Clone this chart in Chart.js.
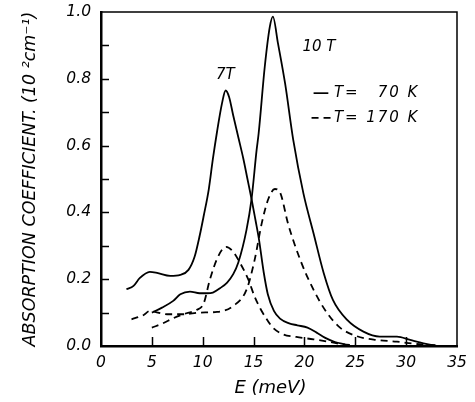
<!DOCTYPE html>
<html>
<head>
<meta charset="utf-8">
<script src="https://cdn.jsdelivr.net/npm/chart.js@4/dist/chart.umd.min.js"></script>
<style>
  html, body { margin: 0; padding: 0; background: #fff; }
  canvas { display: block; }
</style>
</head>
<body>
<canvas id="c" width="475" height="402"></canvas>
<script>
// ---- Data (energy in meV, absorption coefficient in 10^2 cm^-1) ----
const energy7T70K = [2.5, 3.2, 3.8, 4.8, 5.6, 6.8, 7.8, 8.6, 9.2, 9.7, 10.1, 10.6, 11.0, 11.4, 11.9, 12.25, 12.6, 13.0, 13.5, 14.0, 14.4, 14.8, 15.2, 15.5, 16.0, 16.4, 17.0, 17.6, 18.5, 19.3, 20.3, 21.2, 22.0, 23.0, 24.0];
const alpha7T70K  = [0.17, 0.18, 0.203, 0.222, 0.218, 0.21, 0.213, 0.228, 0.267, 0.33, 0.39, 0.47, 0.56, 0.64, 0.727, 0.765, 0.745, 0.69, 0.625, 0.56, 0.50, 0.44, 0.375, 0.325, 0.22, 0.155, 0.105, 0.082, 0.068, 0.062, 0.055, 0.04, 0.025, 0.012, 0.005];

const energy7T170K = [5.0, 6.1, 7.1, 8.4, 9.4, 10.1, 10.7, 11.5, 12.3, 13.0, 13.7, 14.5, 15.1, 15.7, 16.3, 16.9, 17.9, 19.2, 20.9, 22.5, 23.8, 25.0];
const alpha7T170K  = [0.055, 0.068, 0.083, 0.098, 0.108, 0.128, 0.198, 0.267, 0.297, 0.282, 0.247, 0.198, 0.148, 0.11, 0.08, 0.055, 0.035, 0.027, 0.02, 0.012, 0.005, 0.002];

const energy10T70K = [5.0, 6.0, 7.1, 7.8, 8.75, 9.7, 10.4, 11.0, 11.7, 12.4, 13.0, 13.5, 14.3, 14.8, 15.3, 15.5, 16.1, 16.6, 16.9, 17.4, 18.1, 18.9, 19.9, 20.9, 21.9, 22.8, 24.2, 25.8, 27.4, 29.1, 30.4, 31.7, 33.0];
const alpha10T70K  = [0.1, 0.115, 0.135, 0.155, 0.163, 0.158, 0.158, 0.16, 0.173, 0.19, 0.215, 0.25, 0.347, 0.44, 0.587, 0.637, 0.836, 0.956, 0.986, 0.906, 0.786, 0.617, 0.457, 0.337, 0.218, 0.138, 0.078, 0.043, 0.028, 0.028, 0.018, 0.008, 0.0];

const energy10T170K = [3.0, 4.2, 4.8, 5.6, 6.5, 8.1, 9.7, 11.4, 13.0, 14.3, 15.1, 15.8, 16.45, 17.1, 17.6, 18.4, 19.6, 20.9, 22.2, 23.5, 25.1, 27.1, 29.1, 31.0, 33.0];
const alpha10T170K  = [0.08, 0.093, 0.105, 0.1, 0.095, 0.095, 0.1, 0.102, 0.12, 0.168, 0.257, 0.367, 0.44, 0.47, 0.46, 0.365, 0.257, 0.168, 0.1, 0.055, 0.03, 0.018, 0.013, 0.006, 0.002];

const xTickValues = [0, 5, 10, 15, 20, 25, 30, 35];
const yTickLabels = ["0.0", "0.2", "0.4", "0.6", "0.8", "1.0"];

const curveLabels = ["7T", "10 T"];
const legendPrefix = "T=";
const legendTemps = ["70 K", "170 K"];

const FONT = '"DejaVu Sans", "Liberation Sans", sans-serif';

function pts(xs, ys) { return xs.map((x, i) => ({ x: x, y: ys[i] })); }

const solid = { borderColor: '#000', borderWidth: 1.8, pointRadius: 0, fill: false, cubicInterpolationMode: 'monotone' };
const dashed = Object.assign({}, solid, { borderDash: [7, 5] });

const framePlugin = {
  id: 'frame',
  afterDraw(chart) {
    const { ctx, chartArea: a, scales } = chart;
    const xs = scales.x, ys = scales.y;
    ctx.save();
    ctx.strokeStyle = '#000';
    ctx.lineWidth = 1.5;
    ctx.beginPath();
    ctx.moveTo(a.left, a.top); ctx.lineTo(a.right, a.top); ctx.lineTo(a.right, a.bottom);
    ctx.stroke();
    // inward ticks
    ctx.beginPath();
    for (let v = 1; v < 10; v++) {
      const py = Math.round(ys.getPixelForValue(v / 10)) + 0.5;
      ctx.moveTo(a.left, py); ctx.lineTo(a.left + 8, py);
    }
    xTickValues.forEach(v => {
      if (v <= xs.min || v >= xs.max) return;
      const px = Math.round(xs.getPixelForValue(v)) + 0.5;
      ctx.moveTo(px, a.bottom); ctx.lineTo(px, a.bottom - 9);
    });
    ctx.stroke();
    // curve annotations
    ctx.fillStyle = '#000';
    ctx.font = 'italic 15px ' + FONT;
    ctx.textBaseline = 'middle';
    ctx.textAlign = 'left';
    ctx.fillText(curveLabels[0], xs.getPixelForValue(11.3), ys.getPixelForValue(0.81));
    ctx.fillText(curveLabels[1], xs.getPixelForValue(19.8), ys.getPixelForValue(0.895));
    // legend
    const ly = [ys.getPixelForValue(0.757), ys.getPixelForValue(0.683)];
    ctx.lineWidth = 1.7;
    ctx.beginPath();
    ctx.moveTo(xs.getPixelForValue(20.9), ly[0]); ctx.lineTo(xs.getPixelForValue(22.35), ly[0]);
    ctx.stroke();
    ctx.setLineDash([7, 5]);
    ctx.beginPath();
    ctx.moveTo(xs.getPixelForValue(20.7), ly[1]); ctx.lineTo(xs.getPixelForValue(22.6), ly[1]);
    ctx.stroke();
    ctx.setLineDash([]);
    ctx.letterSpacing = '2px';
    const x0 = xs.getPixelForValue(22.9), x1 = xs.getPixelForValue(31.3);
    ly.forEach((y, i) => {
      ctx.textAlign = 'left';
      ctx.fillText(legendPrefix, x0, y);
      ctx.textAlign = 'right';
      ctx.fillText(legendTemps[i], x1, y);
    });
    ctx.restore();
  }
};

new Chart(document.getElementById('c'), {
  type: 'line',
  data: {
    datasets: [
      Object.assign({ label: '7T, T=70 K',   data: pts(energy7T70K, alpha7T70K) }, solid),
      Object.assign({ label: '7T, T=170 K',  data: pts(energy7T170K, alpha7T170K) }, dashed),
      Object.assign({ label: '10T, T=70 K',  data: pts(energy10T70K, alpha10T70K) }, solid),
      Object.assign({ label: '10T, T=170 K', data: pts(energy10T170K, alpha10T170K) }, dashed)
    ]
  },
  options: {
    responsive: false,
    animation: false,
    devicePixelRatio: 1,
    layout: { padding: { left: 0, right: 18, top: 12, bottom: 0 } },
    plugins: { legend: { display: false }, tooltip: { enabled: false } },
    scales: {
      x: {
        type: 'linear', min: 0, max: 35,
        afterBuildTicks: (s) => { s.ticks = xTickValues.map(v => ({ value: v })); },
        ticks: { padding: 8, color: '#000', font: { family: FONT, size: 15.5, style: 'italic' }, maxRotation: 0,
                 callback: (v) => String(v) },
        grid: { display: false, drawTicks: false },
        border: { display: true, color: '#000', width: 2.5 },
        title: { display: true, text: 'E (meV)   ', color: '#000', font: { family: FONT, size: 18, style: 'italic' }, padding: { top: 0, bottom: 3 } },
        afterFit: (s) => { s.height = 56; s.paddingLeft = 0; s.paddingRight = 0; }
      },
      y: {
        type: 'linear', min: 0, max: 1,
        ticks: { stepSize: 0.1, padding: 10, color: '#000', font: { family: FONT, size: 15.5, style: 'italic' },
                 callback: (v) => { const k = Math.round(v * 10); return k % 2 === 0 ? yTickLabels[k / 2] : ''; } },
        grid: { display: false, drawTicks: false },
        border: { display: true, color: '#000', width: 2.5 },
        title: { display: true, text: 'ABSORPTION COEFFICIENT. (10 \u00B2cm\u207B\u00B9)', color: '#000', font: { family: FONT, size: 17.5, style: 'italic' }, padding: { top: 20, bottom: 0 } },
        afterFit: (s) => { s.width = 101; s.paddingTop = 0; s.paddingBottom = 0; }
      }
    }
  },
  plugins: [framePlugin]
});
</script>
</body>
</html>
